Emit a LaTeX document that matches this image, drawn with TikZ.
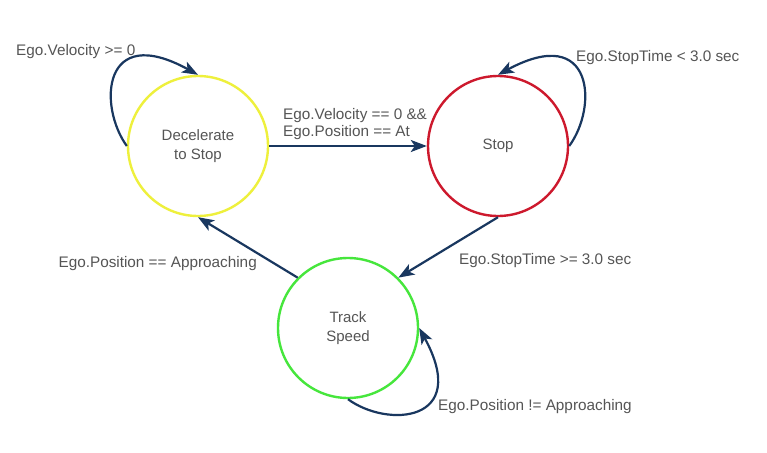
\documentclass[tikz,border=0pt]{standalone}
\usepackage{fontspec}
\setmainfont{Liberation Sans}
\usetikzlibrary{arrows.meta}
\definecolor{txtgray}{RGB}{85,85,85}
\definecolor{arrowblue}{RGB}{25,55,95}
\definecolor{stYellow}{RGB}{238,240,60}
\definecolor{stRed}{RGB}{205,25,45}
\definecolor{stGreen}{RGB}{70,230,60}
\begin{document}
\begin{tikzpicture}[x=1pt,y=-1pt,
  state/.style={circle,minimum size=140pt,inner sep=0pt,line width=2.4pt,fill=white,
    text=txtgray,align=center,font=\fontsize{15pt}{19pt}\selectfont},
  lbl/.style={text=txtgray,inner sep=0pt,align=left,font=\fontsize{15.3pt}{17.5pt}\selectfont},
  trans/.style={draw=arrowblue,line width=2.2pt,-{Stealth[length=16pt,width=12pt,inset=4pt]}}]
\useasboundingbox[fill=white] (0,0) rectangle (767,452);
\node[state,draw=stYellow] (dec) at (198,146) {Decelerate\\to Stop};
\node[state,draw=stRed] (stop) at (498,146) {Stop};
\node[state,draw=stGreen] (track) at (348,328) {Track\\Speed};
% transitions
\draw[trans] (dec) -- (stop);
\draw[trans] (stop.south) -- (track.north east);
\draw[trans] (track.north west) -- (dec.south);
% self loops
\draw[trans] (dec.west) .. controls (98,106) and (102,22) .. (dec.north);
\draw[trans] (stop.east) .. controls (598,107) and (594,23) .. (stop.north);
\draw[trans] (track.south) .. controls (387,428) and (471,423) .. (track.east);
% labels
\node[lbl,anchor=west] (l1) at (16,52) {Ego.Velocity >= 0};
\node[lbl,anchor=west] (l2) at (576,58) {Ego.StopTime < 3.0 sec};
\node[lbl,anchor=west] (l3) at (283,124) {Ego.Velocity == 0 \&\&\\Ego.Position == At};
\node[lbl,anchor=west] (l4) at (459,261) {Ego.StopTime >= 3.0 sec};
\node[lbl,anchor=east] (l5) at (257,264) {Ego.Position == Approaching};
\node[lbl,anchor=west] (l6) at (438,407) {Ego.Position != Approaching};
\end{tikzpicture}
\end{document}
